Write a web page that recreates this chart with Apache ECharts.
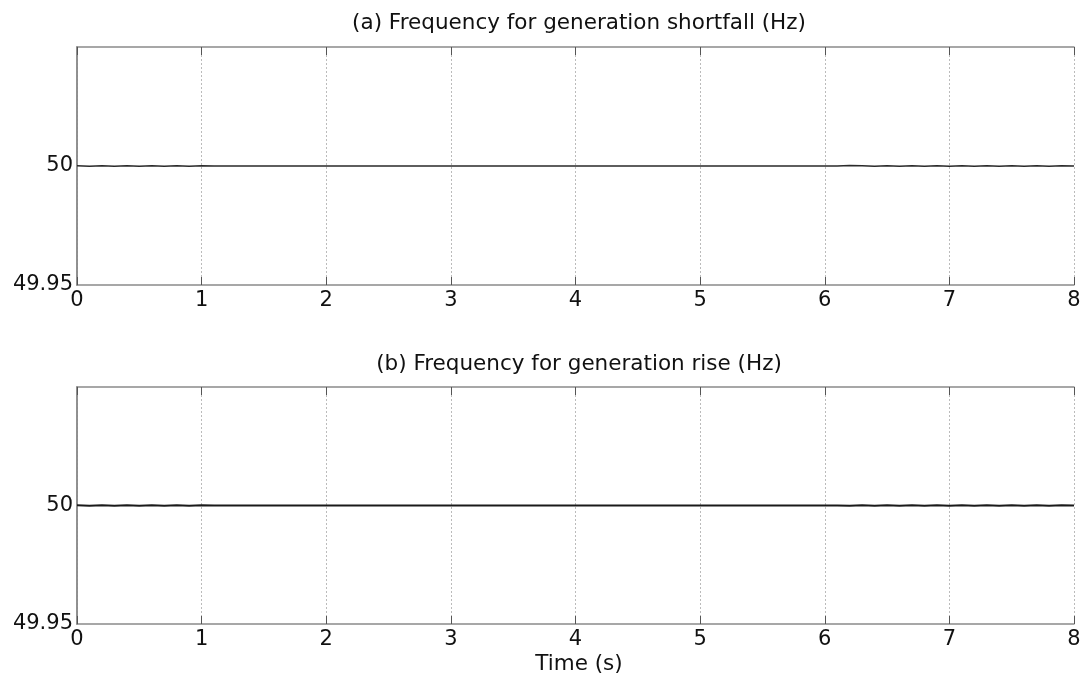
<!DOCTYPE html>
<html><head><meta charset="utf-8">
<script src="https://cdn.jsdelivr.net/npm/echarts@6/dist/echarts.min.js"></script>
<style>html,body{margin:0;padding:0;background:#fff}#c{width:1090px;height:682px}</style>
</head><body><div id="c"></div>
<script>
const titles = ['(a) Frequency for generation shortfall (Hz)', '(b) Frequency for generation rise (Hz)'];
const xLabel = 'Time (s)';
const yTicks = [49.95, 50];
const timeA = [0,0.1,0.2,0.3,0.4,0.5,0.6,0.7,0.8,0.9,1.0,1.1,6.1,6.2,6.3,6.4,6.5,6.6,6.7,6.8,6.9,7.0,7.1,7.2,7.3,7.4,7.5,7.6,7.7,7.8,7.9,8.0];
const freqA = [50.0001,49.9999,50.0001,49.9999,50.0001,49.9999,50.0001,49.9999,50.0001,49.9999,50.0001,50,50,50.0002,50.0001,49.9999,50.0001,49.9999,50.0001,49.9999,50.0001,49.9999,50.0001,49.9999,50.0001,49.9999,50.0001,49.9999,50.0001,49.9999,50.0001,50];
const timeB = [0,0.1,0.2,0.3,0.4,0.5,0.6,0.7,0.8,0.9,1.0,1.1,6.1,6.2,6.3,6.4,6.5,6.6,6.7,6.8,6.9,7.0,7.1,7.2,7.3,7.4,7.5,7.6,7.7,7.8,7.9,8.0];
const freqB = [50.0001,49.9999,50.0001,49.9999,50.0001,49.9999,50.0001,49.9999,50.0001,49.9999,50.0001,50,50,49.9999,50.0001,49.9999,50.0001,49.9999,50.0001,49.9999,50.0001,49.9999,50.0001,49.9999,50.0001,49.9999,50.0001,49.9999,50.0001,49.9999,50.0001,50];

const font = '"DejaVu Sans", Arial, sans-serif';
const axisCol = '#8a8a8a';
const grids = [{left:77, right:16, top:47, height:238}, {left:77, right:16, top:387, height:237}];
const xAxes = [], yAxes = [];
grids.forEach((g, i) => {
  xAxes.push({type:'value', gridIndex:i, min:0, max:8, interval:1,
    axisLine:{lineStyle:{color:axisCol, width:1.5}},
    axisTick:{inside:true, length:8, lineStyle:{color:'#555'}},
    axisLabel:{color:'#111', fontSize:21, fontFamily:font, margin:5},
    splitLine:{show:true, lineStyle:{type:[2,2], color:'#bbb', width:1}}});
  xAxes.push({type:'value', gridIndex:i, position:'top', min:0, max:8, interval:1,
    axisLine:{lineStyle:{color:axisCol, width:1.5}},
    axisTick:{inside:true, length:8, lineStyle:{color:'#555'}},
    axisLabel:{show:false}, splitLine:{show:false}});
  yAxes.push({type:'value', gridIndex:i, min:49.95, max:50.05, interval:0.05,
    axisLine:{show:true, lineStyle:{color:axisCol, width:1.5}},
    axisTick:{show:false},
    axisLabel:{color:'#111', fontSize:21, fontFamily:font, margin:4,
      formatter: v => { const r = Math.round(v*100)/100; return yTicks.indexOf(r) >= 0 ? String(r) : ''; }},
    splitLine:{show:false}});
  yAxes.push({type:'value', gridIndex:i, position:'right', min:49.95, max:50.05, interval:0.05,
    axisLine:{show:true, lineStyle:{color:axisCol, width:1.5}},
    axisTick:{show:false},
    axisLabel:{show:false}, splitLine:{show:false}});
});
const mk = (t, v) => t.map((x, k) => [x, v[k]]);
const tStyle = {fontSize:21.5, fontWeight:'normal', color:'#111', fontFamily:font};
const option = {
  animation:false,
  backgroundColor:'#fff',
  title:[
    {text:titles[0], left:574, top:7, textAlign:'center', textStyle:tStyle},
    {text:titles[1], left:574, top:348, textAlign:'center', textStyle:tStyle},
    {text:xLabel, left:574, top:648, textAlign:'center', textStyle:tStyle}
  ],
  grid:grids,
  xAxis:xAxes,
  yAxis:yAxes,
  series:[
    {type:'line', xAxisIndex:0, yAxisIndex:0, data:mk(timeA, freqA), showSymbol:false, lineStyle:{color:'#2a2a2a', width:1.6}},
    {type:'line', xAxisIndex:2, yAxisIndex:2, data:mk(timeB, freqB), showSymbol:false, lineStyle:{color:'#1a1a1a', width:2}}
  ]
};
echarts.init(document.getElementById('c')).setOption(option);
</script></body></html>
